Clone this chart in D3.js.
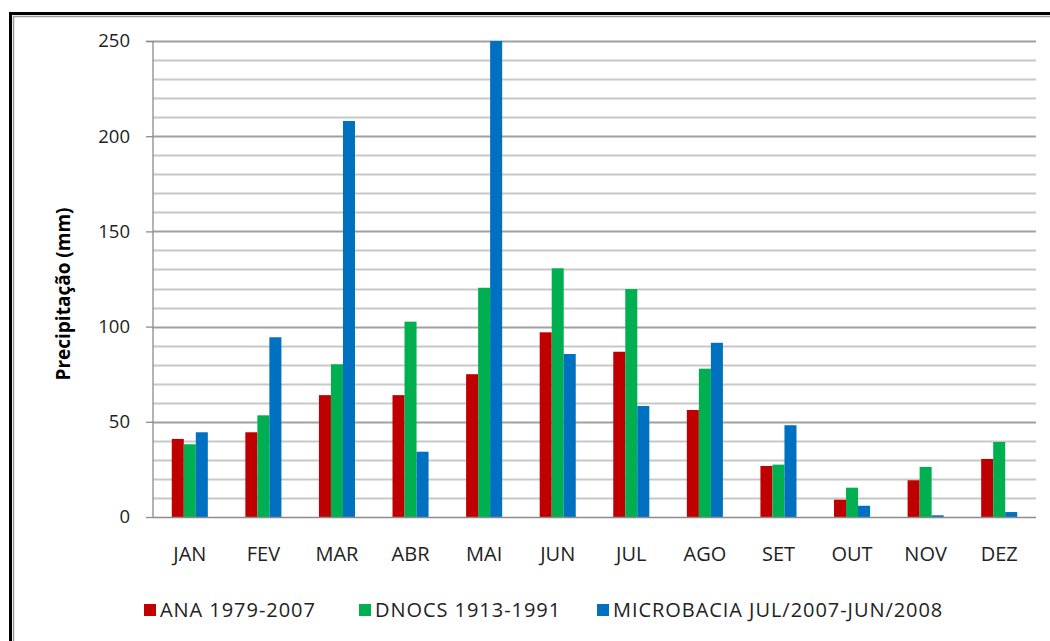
<!DOCTYPE html>
<html><head><meta charset="utf-8">
<script src="https://cdn.jsdelivr.net/npm/d3@7"></script>
<style>body{margin:0;background:#fff;} svg{display:block;}</style>
</head><body>
<script>
const months = ["JAN","FEV","MAR","ABR","MAI","JUN","JUL","AGO","SET","OUT","NOV","DEZ"];
const seriesNames = ["ANA 1979-2007","DNOCS 1913-1991","MICROBACIA JUL/2007-JUN/2008"];
const ana = [41, 44.5, 64, 64, 75, 97, 86.8, 56.2, 26.8, 9.1, 19.3, 30.5];
const dnocs = [38.2, 53.4, 80.2, 102.6, 120.4, 130.6, 119.7, 77.9, 27.5, 15.4, 26.3, 39.4];
const microbacia = [44.5, 94.4, 208, 34.3, 250, 85.6, 58.3, 91.5, 48.2, 5.9, 0.9, 2.6];
const yTicks = [0, 50, 100, 150, 200, 250];
const colors = ["#C00000", "#00B050", "#0070C0"];

const W = 1050, H = 641;
const svg = d3.select("body").append("svg").attr("width", W).attr("height", H);
const font = "'Open Sans', 'Noto Sans', sans-serif";

// frame
svg.append("rect").attr("x", 10.5).attr("y", 13.5).attr("width", 1100).attr("height", 700)
  .attr("fill", "#fff").attr("stroke", "#000").attr("stroke-width", 3);
svg.append("path").attr("d", "M13.5,700 V16.5 H1100").attr("fill", "none").attr("stroke", "#9a9a9a").attr("stroke-width", 1.5);

const pLeft = 153, pRight = 1036, pTop = 41, pBottom = 517;
const y = d3.scaleLinear().domain([0, 250]).range([pBottom, pTop]);
const x0 = d3.scaleBand().domain(months).range([pLeft, pRight]).paddingInner(0.51).paddingOuter(0.255);
const x1 = d3.scaleBand().domain(seriesNames).range([0, x0.bandwidth()]);

// gridlines
const g = svg.append("g");
g.selectAll("line.grid").data(d3.range(10, 251, 10)).join("line")
  .attr("x1", pLeft).attr("x2", pRight)
  .attr("y1", d => Math.round(y(d)) + 0.5).attr("y2", d => Math.round(y(d)) + 0.5)
  .attr("stroke", d => d % 50 === 0 ? "#a0a0a0" : "#c8c8c8").attr("stroke-width", 1.8);

// bars
const data = [ana, dnocs, microbacia];
months.forEach((m, i) => {
  seriesNames.forEach((s, j) => {
    const v = data[j][i];
    svg.append("rect")
      .attr("x", x0(m) + x1(s)).attr("width", x1.bandwidth())
      .attr("y", y(v)).attr("height", y(0) - y(v))
      .attr("fill", colors[j]);
  });
});

// y axis
const yAxis = d3.axisLeft(y).tickValues(yTicks).tickSize(7).tickPadding(16);
const ya = svg.append("g").attr("transform", `translate(${pLeft},0)`).call(yAxis);
ya.select(".domain").attr("stroke", "#8c8c8c").attr("stroke-width", 1.3).attr("d", `M-7,${pTop}.5H0V${pBottom}`);
ya.selectAll(".tick line").attr("stroke", "#8c8c8c").attr("stroke-width", 1.3);
ya.selectAll(".tick text").attr("font-family", font).attr("font-size", 18.5).attr("fill", "#222");

// x baseline
svg.append("line").attr("x1", pLeft).attr("x2", pRight).attr("y1", pBottom + 0.5).attr("y2", pBottom + 0.5)
  .attr("stroke", "#8c8c8c").attr("stroke-width", 1.3);

// x axis labels
const xAxis = d3.axisBottom(x0).tickSize(0).tickPadding(30);
const xa = svg.append("g").attr("transform", `translate(0,${pBottom})`).call(xAxis);
xa.select(".domain").remove();
xa.selectAll(".tick text").attr("font-family", font).attr("font-size", 20).attr("fill", "#222");

// y title
svg.append("text").attr("transform", "translate(70,294) rotate(-90)")
  .attr("text-anchor", "middle").attr("font-family", font).attr("font-weight", "bold")
  .attr("font-size", 19).attr("fill", "#000").text("Precipitação (mm)");

// legend
const legX = [144, 359, 597];
const leg = svg.append("g");
seriesNames.forEach((s, j) => {
  leg.append("rect").attr("x", legX[j]).attr("y", 604).attr("width", 12).attr("height", 12).attr("fill", colors[j]);
  leg.append("text").attr("x", legX[j] + 16).attr("y", 617).attr("font-family", font)
    .attr("font-size", 20).attr("letter-spacing", 0.95).attr("fill", "#222").text(s);
});
</script>
</body></html>
